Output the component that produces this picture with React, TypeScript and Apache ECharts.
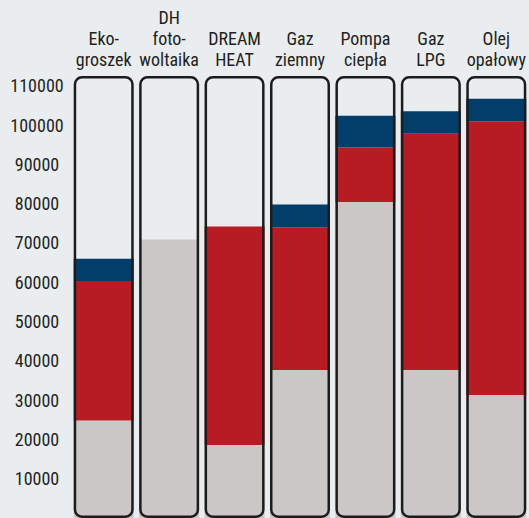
import React, { useEffect, useRef } from "react";
import * as echarts from "echarts";

const categories = [
  "Eko-\ngroszek",
  "DH\nfoto-\nwoltaika",
  "DREAM\nHEAT",
  "Gaz\nziemny",
  "Pompa\nciepła",
  "Gaz\nLPG",
  "Olej\nopałowy",
];
const grayValues = [24800, 70900, 18600, 37700, 80400, 37700, 31300];
const redValues = [35500, 0, 55600, 36300, 13900, 60100, 69700];
const blueValues = [5700, 0, 0, 5800, 8100, 5700, 5700];
const axisMax = 112500;
const frameValues = categories.map(() => axisMax);

const FONT = "'Roboto Condensed', 'DejaVu Sans Condensed', sans-serif";
const BG = "#e9edf0";

export default function App() {
  const ref = useRef<HTMLDivElement>(null);
  useEffect(() => {
    if (!ref.current) return;
    const chart = echarts.init(ref.current, undefined, { renderer: "svg" });
    const barW = 60;
    chart.setOption({
      animation: false,
      backgroundColor: BG,
      grid: { left: 71, top: 76, width: 460, height: 443, containLabel: false },
      xAxis: {
        type: "category",
        position: "top",
        data: categories,
        axisLine: { show: false },
        axisTick: { show: false },
        axisLabel: {
          fontFamily: FONT,
          fontSize: 18,
          lineHeight: 21,
          color: "#231f20",
          margin: 6,
          interval: 0,
        },
      },
      yAxis: {
        type: "value",
        min: 0,
        max: axisMax,
        interval: 10000,
        axisLine: { show: false },
        axisTick: { show: false },
        splitLine: { show: false },
        axisLabel: {
          fontFamily: FONT,
          fontSize: 18,
          color: "#231f20",
          align: "center",
          margin: 34,
          showMinLabel: false,
          showMaxLabel: false,
          formatter: (v: number) => String(v),
        },
      },
      series: [
        {
          type: "bar",
          stack: "total",
          data: grayValues,
          barWidth: barW,
          barGap: "-100%",
          itemStyle: { color: "#cac7c6" },
          silent: true,
        },
        {
          type: "bar",
          stack: "total",
          data: redValues,
          barWidth: barW,
          barGap: "-100%",
          itemStyle: { color: "#b71b23" },
          silent: true,
        },
        {
          type: "bar",
          stack: "total",
          data: blueValues,
          barWidth: barW,
          barGap: "-100%",
          itemStyle: { color: "#033e6b" },
          silent: true,
        },
        {
          type: "bar",
          data: frameValues,
          barWidth: barW,
          barGap: "-100%",
          z: 10,
          silent: true,
          itemStyle: {
            color: "rgba(0,0,0,0)",
            borderColor: "#1c1c1c",
            borderWidth: 2.5,
            borderRadius: 7,
          },
        },
      ],
    });
    return () => chart.dispose();
  }, []);
  return (
    <div
      ref={ref}
      style={{ position: "absolute", left: 0, top: 0, width: 529, height: 518 }}
    />
  );
}
